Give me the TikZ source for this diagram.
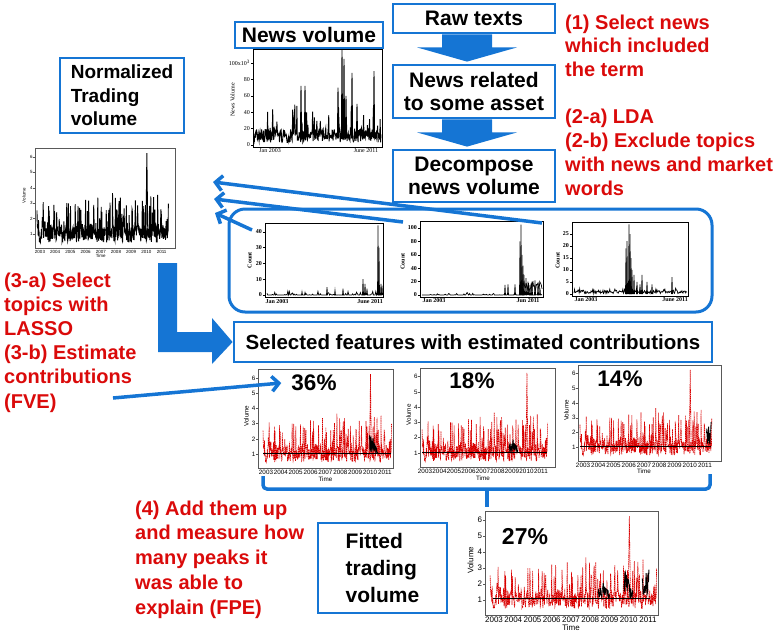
\documentclass[tikz,border=0pt]{standalone}
\usepackage{fontspec}
\setmainfont{Liberation Sans}
\newfontfamily\serifplot{Liberation Serif}
\usetikzlibrary{arrows.meta}
\definecolor{blueA}{RGB}{21,117,212}
\definecolor{redA}{RGB}{218,10,10}
\tikzset{
  procbox/.style={draw=blueA, line width=2.8pt, fill=white, align=center, inner sep=1pt,
    font=\bfseries\fontsize{21}{23.5}\selectfont},
  redtxt/.style={text=redA, align=left, anchor=base west, inner sep=0pt,
    font=\bfseries\fontsize{20}{24}\selectfont},
  pct/.style={inner sep=0pt, font=\bfseries\fontsize{22.5}{24}\selectfont},
  thinarrow/.style={draw=blueA, line width=3.5pt, -{Straight Barb[length=7pt,width=15pt]}},
  plotframe/.style={draw=black!65, line width=0.5pt},
  redvol/.style={draw=red!85!black, line width=0.6pt, dash pattern=on 1.6pt off 0.6pt},
  blackvol/.style={draw=black, line width=0.9pt},
  fitvol/.style={draw=black, line width=1.3pt},
}
\begin{document}
\begin{tikzpicture}[x=1pt,y=-1pt]
\useasboundingbox (0,0) rectangle (777,638);
\def\volcurve{plot[domain=-0.2:8.45, samples=420] (\x,{0.45+1.0*rnd+2.6*rnd^7})}
\def\volpeak{(6.97,1) -- (7.03,6.25) -- (7.09,1.1)}
\def\volframe#1#2#3{%
  \draw[plotframe] (#1,0.05) rectangle (#2,6.55);
  \foreach \v in {1,...,6}
    \draw[plotframe] (#1,\v) -- ++(-0.1,0) node[left, inner sep=0.6pt, text=black] {\v};
  \foreach \yr [count=\i from 0] in {2003,...,2011}
    \node[below, inner sep=1.8pt] at (\i,0.05) {\yr};
  \node[below, inner sep=0.8pt, yshift=-#3] at (4,0.05) {Time};
  \node[rotate=90, anchor=south, inner sep=0.8pt] at (#1-0.55,3.5) {Volume};
}

% process column
\node[procbox, minimum width=162pt, minimum height=29pt] (raw) at (474,18.5) {Raw texts};
\node[procbox, minimum width=162pt, minimum height=53pt] (rel) at (474,91.5) {News related\\to some asset};
\node[procbox, minimum width=162pt, minimum height=52pt] (dec) at (474,176) {Decompose\\news volume};
\node[procbox, minimum width=148pt, minimum height=26pt] (nvol) at (309,35) {News volume};
\foreach \a/\b in {raw/rel,rel/dec}
  \fill[blueA] ([xshift=-32pt]\a.south) -- ([xshift=18pt]\a.south)
    -- ([xshift=18pt,yshift=-13pt]\a.south) -- ([xshift=43pt,yshift=-13pt]\a.south)
    -- ([xshift=-7pt,yshift=2pt]\b.north) -- ([xshift=-57pt,yshift=-13pt]\a.south)
    -- ([xshift=-32pt,yshift=-13pt]\a.south) -- cycle;

\node[procbox, minimum width=124pt, minimum height=75pt, align=left,
  font=\bfseries\fontsize{19}{23.5}\selectfont] (ntv) at (122,95.5) {Normalized\\Trading\\volume};
\node[procbox, minimum width=478pt, minimum height=40pt,
  font=\bfseries\fontsize{20.5}{23}\selectfont] (sel) at (473,342) {Selected features with estimated contributions};
\node[procbox, minimum width=129pt, minimum height=90pt, align=left,
  font=\bfseries\fontsize{21}{27}\selectfont] (fit) at (382.5,568) {Fitted\\trading\\volume};

% red comments (placed at the baseline of their last line)
\node[redtxt, font=\bfseries\fontsize{20}{23.7}\selectfont] (c1) at (565,76.4) {(1) Select news\\which included\\the term};
\node[redtxt, font=\bfseries\fontsize{20}{23.7}\selectfont] (c2) at (565,195) {(2-a) LDA\\(2-b) Exclude topics\\with news and market\\words};
\node[redtxt, font=\bfseries\fontsize{20}{24.2}\selectfont] (c3) at (4,408) {(3-a) Select\\topics with\\LASSO\\(3-b) Estimate\\contributions\\(FVE)};
\node[redtxt, font=\bfseries\fontsize{20}{24.7}\selectfont] (c4) at (135,614) {(4) Add them up\\and measure how\\many peaks it\\was able to\\explain (FPE)};

% news volume plot
\begin{scope}[shift={(253,145)}, x=1pt, y=0.82pt, font=\serifplot\fontsize{6}{7}\selectfont]
  \draw[line width=0.6pt] (0,-2.5) rectangle (129,117);
  \foreach \v in {0,20,40,60,80}
    \draw (0,\v) -- ++(-2,0) node[left, inner sep=1pt] {\v};
  \draw (0,100) -- ++(-2,0) node[left, inner sep=1pt] {100x10\textsuperscript{3}};
  \pgfmathsetseed{11}
  \draw[line width=0.9pt] plot[domain=1:128, samples=300] (\x,{3+17*rnd+34*rnd^10});
  \foreach \p/\h in {48/72,52/72,85/70,89/116,91/105,93/60,99/88,104/50,121/90}
    \draw[line width=0.9pt] (\p-0.6,8) -- (\p,\h) -- (\p+0.6,8);
  \node[anchor=north, inner sep=1.5pt] at (17,-2.5) {Jan 2003};
  \node[anchor=north, inner sep=1.5pt] at (113,-2.5) {June 2011};
  \node[rotate=90, anchor=south, inner sep=1pt] at (-17,55) {News Volume};
\end{scope}

% normalized trading volume
\begin{scope}[shift={(40,249.4)}, x=15.2pt, y=15.4pt, font=\fontsize{4.5}{5}\selectfont]
  \volframe{-0.33}{8.88}{5pt}
  \pgfmathsetseed{42}
  \draw[blackvol] \volcurve;
  \draw[blackvol] \volpeak;
\end{scope}

% decomposed topics
\draw[blueA, line width=3pt, rounded corners=16pt] (229,209) rectangle (712,312);
\begin{scope}[shift={(265,295)}, x=1pt, y=1.58pt, font=\serifplot\bfseries\fontsize{6}{7}\selectfont]
  \draw[line width=0.6pt] (0,-1.5) rectangle (118,45.5);
  \foreach \v in {0,10,...,40}
    \draw (0,\v) -- ++(-2,0) node[left, inner sep=1pt] {\v};
  \pgfmathsetseed{5}
  \draw[line width=0.7pt] plot[domain=2:117, samples=150] (\x,{2.5*rnd^10});
  \foreach \p/\h in {37/2,40/1.5,62/5,70/3,78/4,98/10,100/7,102/4,113/44,114/30,116/7,117/6}
    \draw[line width=0.7pt] (\p-0.5,0) -- (\p,\h) -- (\p+0.5,0);
  \node[anchor=north, inner sep=1.5pt] at (12,-1.5) {Jan 2003};
  \node[anchor=north, inner sep=1.5pt] at (105,-1.5) {June 2011};
  \node[rotate=90, anchor=south, inner sep=1pt] at (-12,22) {Count};
\end{scope}
\begin{scope}[shift={(420,295)}, x=1pt, y=0.67pt, font=\serifplot\bfseries\fontsize{6}{7}\selectfont]
  \draw[line width=0.6pt] (0,-3) rectangle (123,110);
  \foreach \v in {0,20,...,100}
    \draw (0,\v) -- ++(-2,0) node[left, inner sep=1pt] {\v};
  \pgfmathsetseed{6}
  \draw[line width=0.7pt] plot[domain=2:122, samples=150] (\x,{4*rnd^8});
  \draw[line width=0.7pt] plot[domain=100:122, samples=40] (\x,{4+16*rnd});
  \foreach \p/\h in {85/15,88/16,95/16,100/80,101/105,102/60,103/44,104/30,106/25,108/20,110/15,112/20,115/22,118/18,120/10}
    \draw[line width=0.7pt] (\p-0.5,0) -- (\p,\h) -- (\p+0.5,0);
  \node[anchor=north, inner sep=1.5pt] at (14,-3) {Jan 2003};
  \node[anchor=north, inner sep=1.5pt] at (108,-3) {Jun 2011};
  \node[rotate=90, anchor=south, inner sep=1pt] at (-14,50) {Count};
\end{scope}
\begin{scope}[shift={(572,294)}, x=1pt, y=2.4pt, font=\serifplot\bfseries\fontsize{6}{7}\selectfont]
  \draw[line width=0.6pt] (0,-0.8) rectangle (116,30);
  \foreach \v in {0,5,...,25}
    \draw (0,\v) -- ++(-2,0) node[left, inner sep=1pt] {\v};
  \pgfmathsetseed{7}
  \draw[line width=0.7pt] plot[domain=2:115, samples=200] (\x,{0.2+1.2*rnd+1.2*rnd^6});
  \foreach \p/\h in {54/19,55/22,57/29,58/25,59/15,60/10,62/8,65/5,68/4,70/8,75/5,80/4,100/7}
    \draw[line width=0.7pt] (\p-0.5,0) -- (\p,\h) -- (\p+0.5,0);
  \node[anchor=north, inner sep=1.5pt] at (14,-0.8) {Jan 2003};
  \node[anchor=north, inner sep=1.5pt] at (103,-0.8) {June 2011};
  \node[rotate=90, anchor=south, inner sep=1pt] at (-11,14) {Count};
\end{scope}

% arrows back to the trading volume
\coordinate (t1) at (542,223); \coordinate (h1) at (213,182);
\coordinate (t2) at (403,222); \coordinate (h2) at (214,199);
\coordinate (t3) at (252,230); \coordinate (h3) at (215,213);
\foreach \i in {1,2,3}
  \draw[thinarrow] (t\i) -- (h\i);

% L-shaped arrow to the selection
\fill[blueA] (158,263) -- (177,263) -- (177,332) -- (212,332) -- (212,318)
  -- (sel.west) -- (212,364) -- (212,352) -- (158,352) -- cycle;

% selected features
\begin{scope}[shift={(266,469.2)}, x=14.86pt, y=15.2pt, font=\fontsize{6.3}{7}\selectfont]
  \volframe{-0.55}{8.55}{7pt}
  \pgfmathsetseed{42}
  \draw[redvol] \volcurve;
  \draw[redvol] \volpeak;
  \draw[fitvol] (-0.2,1.05) -- (8.4,1.05);
  \draw[blackvol] plot[domain=6.95:7.5, samples=25] (\x,{1+1.7*rnd*(1-(\x-6.95)*1.5)});
\end{scope}
\begin{scope}[shift={(425,468.2)}, x=14.5pt, y=15.25pt, font=\fontsize{6.3}{7}\selectfont]
  \volframe{-0.35}{8.97}{7pt}
  \pgfmathsetseed{42}
  \draw[redvol] \volcurve;
  \draw[redvol] \volpeak;
  \draw[fitvol] (-0.2,1.05) -- (8.4,1.05);
  \draw[blackvol] plot[domain=5.8:6.4, samples=25] (\x,{1+0.9*rnd*(1-abs(\x-6.05)*1.5)});
\end{scope}
\begin{scope}[shift={(583,462)}, x=15.25pt, y=14.75pt, font=\fontsize{6.3}{7}\selectfont]
  \volframe{-0.33}{9.05}{7pt}
  \pgfmathsetseed{42}
  \draw[redvol] \volcurve;
  \draw[redvol] \volpeak;
  \draw[fitvol] (-0.2,1.05) -- (8.4,1.05);
  \draw[blackvol] plot[domain=8.1:8.4, samples=12] (\x,{1+1.7*rnd});
\end{scope}
\node[pct] (p36) at (314,383) {36\%};
\node[pct] (p18) at (472,381) {18\%};
\node[pct] (p14) at (620,379) {14\%};
\coordinate (fve) at (113,398);
\draw[thinarrow] (fve) -- ([xshift=-10pt]p36.west);

% sum of the features
\draw[blueA, line width=3.5pt, rounded corners=4pt] (263,476) -- (263,489) -- (710,489) -- (710,474);
\draw[blueA, line width=3.5pt] (487,489) -- (487,507);
\begin{scope}[shift={(494,616)}, x=19.25pt, y=16pt, font=\fontsize{8}{9}\selectfont]
  \volframe{-0.47}{8.52}{8pt}
  \pgfmathsetseed{42}
  \draw[redvol] \volcurve;
  \draw[redvol] \volpeak;
  \draw[fitvol] (-0.05,1.1) -- (8.1,1.1);
  \draw[blackvol] plot[domain=5.4:6.0, samples=25] (\x,{1.1+1*rnd*(1-abs(\x-5.66)*1.5)});
  \draw[blackvol] plot[domain=6.75:7.2, samples=20] (\x,{1.1+1.9*rnd*(1-(\x-6.75)*1.6)});
  \draw[blackvol] plot[domain=7.7:8.05, samples=15] (\x,{1.1+1.9*rnd});
\end{scope}
\node[pct, font=\bfseries\fontsize{23}{24}\selectfont] (p27) at (525,537) {27\%};
\end{tikzpicture}
\end{document}
